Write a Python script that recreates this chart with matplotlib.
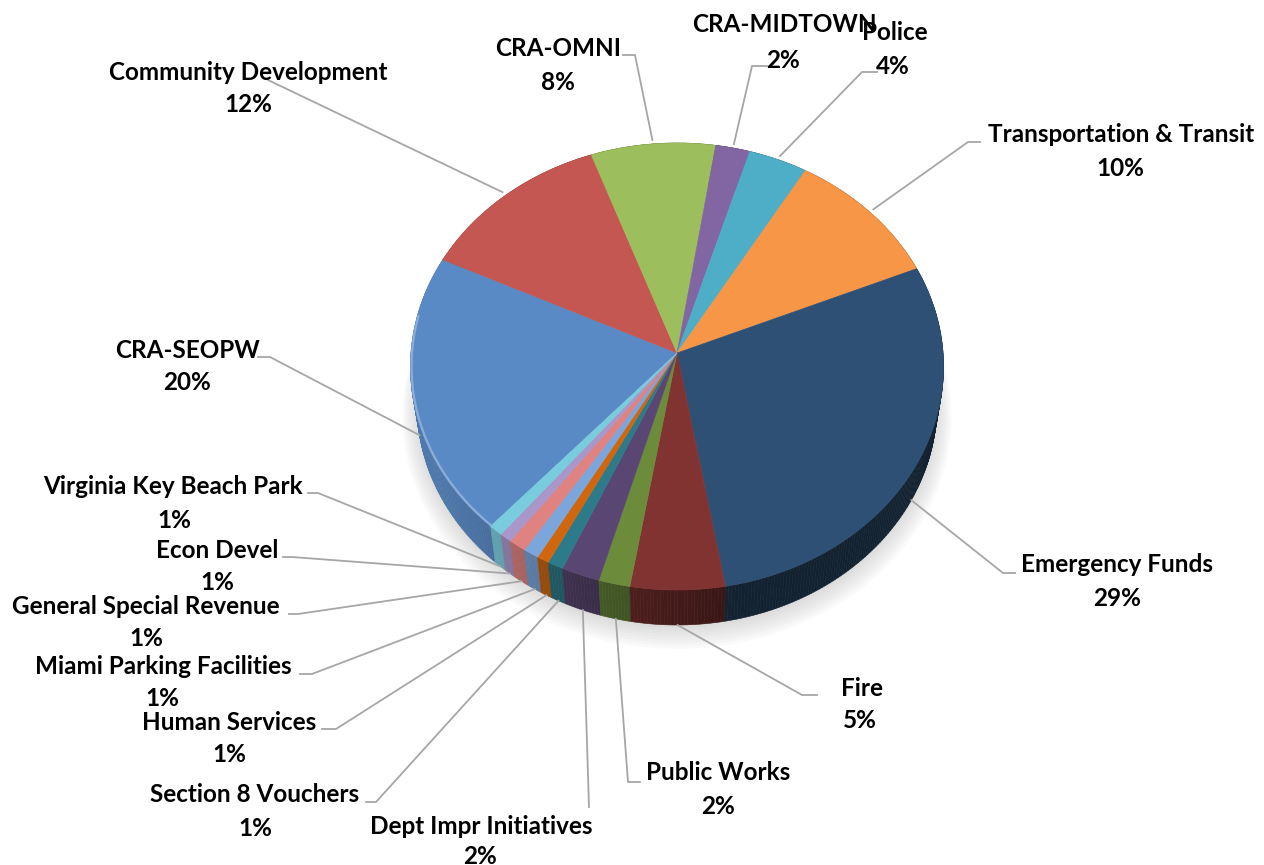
#! /usr/bin/env python3

import matplotlib
matplotlib.use("Agg")
import matplotlib.pyplot as plt
from matplotlib.collections import PolyCollection
import numpy as np

"""
Données.
"""

labels = [
    "CRA-SEOPW", "Community Development", "CRA-OMNI", "CRA-MIDTOWN",
    "Police", "Transportation & Transit", "Emergency Funds", "Fire",
    "Public Works", "Dept Impr Initiatives", "Section 8 Vouchers",
    "Human Services", "Miami Parking Facilities", "General Special Revenue",
    "Econ Devel", "Virginia Key Beach Park",
]
values = [20.4, 12.4, 8.0, 2.2, 3.8, 10.2, 28.6, 5.4,
          1.8, 2.2, 0.9, 0.7, 0.9, 1.0, 0.7, 0.8]
colors = [
    "#5A8AC6", "#C55753", "#9DBE5C", "#8266A4", "#4EADC7", "#F79646",
    "#2E5075", "#813331", "#6C8C3C", "#5A4672", "#2D7B8A", "#D0670F",
    "#7BA6DC", "#DF8280", "#A997C9", "#79CCDE",
]

# position of each label (name centre, percentage centre) and leader start/elbow
name_pos = [(188, 350), (248, 72), (558, 48), (784, 25), (895, 33), (1121, 135),
            (1117, 565), (862, 688), (718, 773), (481, 827), (255, 795),
            (229, 722), (163, 667), (146, 607), (217, 550), (173, 487)]
pct_pos = [(187, 383), (248, 104), (558, 82), (783, 60), (893, 66), (1120, 168),
           (1117, 598), (860, 720), (718, 806), (480, 857), (255, 829),
           (229, 755), (162, 699), (146, 639), (217, 582), (174, 520)]
leader_start = [(258, 357), (268, 80), (623, 55), (767, 66), (877, 72), (980, 142),
                (1015, 573), (817, 695), (640, 782), (589, 807), (366, 802),
                (322, 729), (300, 674), (289, 614), (283, 557), (308, 493)]
leader_elbow = [(270, 357), (268, 80), (635, 55), (752, 66), (862, 72), (968, 142),
                (1003, 573), (802, 695), (628, 782), (589, 807), (376, 802),
                (336, 729), (312, 674), (298, 614), (292, 557), (318, 493)]

start_angle = 222.0   # degrés, sens horaire depuis le fond

"""
Projection perspective du camembert 3D.
"""

CX, CY = 677.0, 353.0
S, C   = 0.837, 0.547
D, F   = 9.05, 2408.0
H      = 0.273


def project(theta, r=1.0, z=0.0):
    t = np.radians(theta)
    x = r * np.sin(t)
    y = r * np.cos(t)
    v = y * S + z * C
    w = y * C - z * S
    return CX + F * x / (D + w), CY - F * v / (D + w)


def depth(theta, z=0.0):
    return np.cos(np.radians(theta)) * C - z * S


def shade(hexcol, k):
    rgb = np.array(matplotlib.colors.to_rgb(hexcol))
    return tuple(np.clip(rgb * k, 0, 1))


def lighten(hexcol, k):
    rgb = np.array(matplotlib.colors.to_rgb(hexcol))
    return tuple(rgb + (1 - rgb) * k)


def side_factor(theta):
    t = np.radians(theta)
    lam = -0.9 * np.sin(t) - 0.2 * np.cos(t)
    return 0.42 + 0.5 * max(0.0, lam)


total = sum(values)
spans = [v / total * 360 for v in values]
bounds = start_angle + np.concatenate([[0], np.cumsum(spans)])

fig = plt.figure(figsize=(12.64, 8.65), dpi=100)
ax = fig.add_axes([0, 0, 1, 1])
ax.set_xlim(0, 1264)
ax.set_ylim(865, 0)
ax.axis("off")

# ombre douce
th = np.linspace(0, 360, 361)
for i in range(8):
    r = 1.0 + 0.008 * i
    sx, sy = project(th, r, -H)
    ax.fill(sx, sy + 3 + i, color="#808080", alpha=0.035, lw=0, zorder=1)

# flancs
quads, qcols, qdepth = [], [], []
for i in range(len(values)):
    a, b = bounds[i], bounds[i + 1]
    n = max(2, int(np.ceil((b - a) / 0.7)) + 1)
    ts = np.linspace(a, b, n)
    for t0, t1 in zip(ts[:-1], ts[1:]):
        x0, y0 = project(t0)
        x1, y1 = project(t1)
        x2, y2 = project(t1, z=-H)
        x3, y3 = project(t0, z=-H)
        tm = (t0 + t1) / 2
        quads.append([(x0, y0), (x1, y1), (x2, y2), (x3, y3)])
        qcols.append(shade(colors[i], side_factor(tm)))
        qdepth.append(depth(tm, -H / 2))
order = np.argsort(qdepth)[::-1]
pc = PolyCollection([quads[k] for k in order],
                    facecolors=[qcols[k] for k in order],
                    edgecolors=[qcols[k] for k in order],
                    linewidths=0.4, zorder=2)
ax.add_collection(pc)

# face supérieure
for i in range(len(values)):
    a, b = bounds[i], bounds[i + 1]
    ts = np.linspace(a, b, max(3, int((b - a) / 0.5) + 2))
    px, py = project(ts)
    xs = np.concatenate([[CX], px])
    ys = np.concatenate([[CY], py])
    ax.fill(xs, ys, facecolor=colors[i], edgecolor=colors[i], lw=0.4, zorder=3)
    # liseré clair sur le bord avant
    lo, hi = max(a, 80), min(b, 280)
    if lo < hi:
        ts = np.linspace(lo, hi, max(3, int((hi - lo) / 0.5) + 2))
        px, py = project(ts, 0.996)
        ax.plot(px, py, color=lighten(colors[i], 0.3), lw=1.6,
                solid_capstyle="butt", zorder=4)

# étiquettes et lignes de rappel
for i in range(len(values)):
    mid = (bounds[i] + bounds[i + 1]) / 2 % 360
    if 90 < mid < 270:
        ex, ey = project(mid, 1.0, -H)
    else:
        ex, ey = project(mid, 1.02)
    sx, sy = leader_start[i]
    kx, ky = leader_elbow[i]
    ax.plot([sx, kx, ex], [sy, ky, ey], color="#A6A6A6", lw=1.3, zorder=5)

    pct = values[i] / total * 100
    ax.text(*name_pos[i], labels[i], ha="center", va="center",
            fontfamily="Lato", fontweight="bold", fontsize=17.5,
            color="black", zorder=6)
    ax.text(*pct_pos[i], f"{pct:.0f}%", ha="center", va="center",
            fontfamily="Lato", fontweight="bold", fontsize=17.5,
            color="black", zorder=6)

fig.savefig("out.png", dpi=100)
